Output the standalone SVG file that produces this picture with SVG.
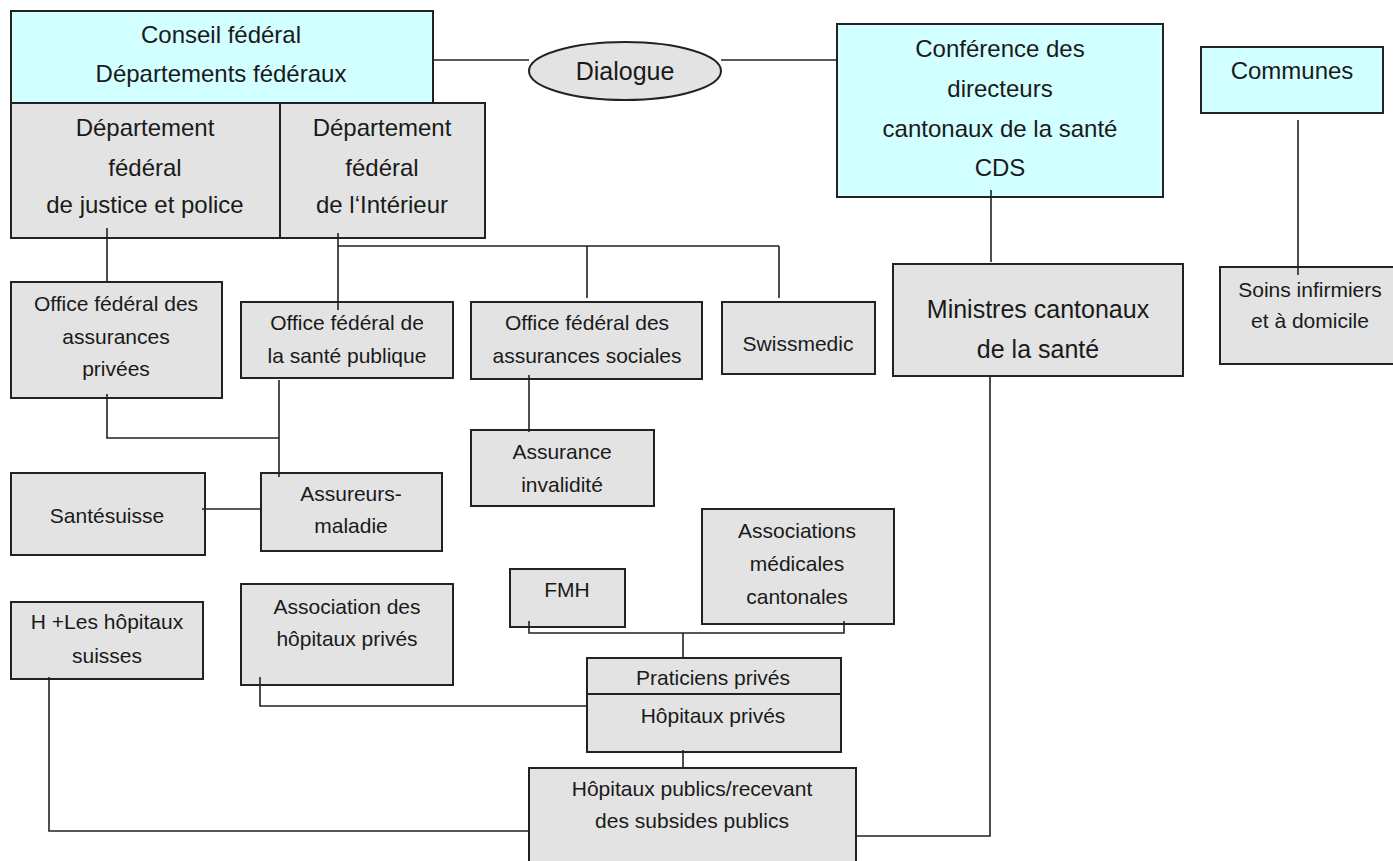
<svg xmlns="http://www.w3.org/2000/svg" width="1393" height="861" viewBox="0 0 1393 861">
<style>
.cy{fill:#d2ffff;stroke:#222;stroke-width:2}
.gr{fill:#e3e3e3;stroke:#222;stroke-width:2}
text{font-family:"Liberation Sans",Arial,sans-serif;fill:#1a1a1a;text-anchor:middle;font-size:21px}
.lg{font-size:24px}
.xl{font-size:25px}
#connectors path{fill:none;stroke:#222;stroke-width:1.6}
</style>
<rect width="1393" height="861" fill="#fff"/>
<g id="conseil"><rect class="cy" x="11" y="11" width="422" height="92"/>
<text class="lg" x="221" y="43">Conseil fédéral</text>
<text class="lg" x="221" y="82">Départements fédéraux</text></g>
<g id="dfjp"><rect class="gr" x="11" y="103" width="269" height="135"/>
<text class="lg" x="145" y="136">Département</text>
<text class="lg" x="145" y="176">fédéral</text>
<text class="lg" x="145" y="213">de justice et police</text></g>
<g id="dfi"><rect class="gr" x="280" y="103" width="205" height="135"/>
<text class="lg" x="382" y="136">Département</text>
<text class="lg" x="382" y="176">fédéral</text>
<text class="lg" x="382" y="213">de l‘Intérieur</text></g>
<g id="dialogue"><ellipse cx="625" cy="71" rx="96" ry="29" fill="#e3e3e3" stroke="#222" stroke-width="2"/>
<text class="xl" x="625" y="80">Dialogue</text></g>
<g id="cds"><rect class="cy" x="837" y="24" width="326" height="173"/>
<text class="lg" x="1000" y="57">Conférence des</text>
<text class="lg" x="1000" y="97">directeurs</text>
<text class="lg" x="1000" y="137">cantonaux de la santé</text>
<text class="lg" x="1000" y="176">CDS</text></g>
<g id="communes"><rect class="cy" x="1201" y="47" width="182" height="66"/>
<text class="lg" x="1292" y="79">Communes</text></g>
<g id="soins"><rect class="gr" x="1220" y="267" width="180" height="97"/>
<text x="1310" y="297">Soins infirmiers</text>
<text x="1310" y="328">et à domicile</text></g>
<g id="ministres"><rect class="gr" x="893" y="264" width="290" height="112"/>
<text class="xl" x="1038" y="318">Ministres cantonaux</text>
<text class="xl" x="1038" y="358">de la santé</text></g>
<g id="ofap"><rect class="gr" x="11" y="282" width="211" height="116"/>
<text x="116" y="311">Office fédéral des</text>
<text x="116" y="344">assurances</text>
<text x="116" y="376">privées</text></g>
<g id="ofsp"><rect class="gr" x="241" y="302" width="212" height="76"/>
<text x="347" y="330">Office fédéral de</text>
<text x="347" y="363">la santé publique</text></g>
<g id="ofas"><rect class="gr" x="471" y="302" width="231" height="77"/>
<text x="587" y="330">Office fédéral des</text>
<text x="587" y="363">assurances sociales</text></g>
<g id="swissmedic"><rect class="gr" x="722" y="302" width="153" height="72"/>
<text x="798" y="351">Swissmedic</text></g>
<g id="ai"><rect class="gr" x="471" y="430" width="183" height="76"/>
<text x="562" y="459">Assurance</text>
<text x="562" y="492">invalidité</text></g>
<g id="santesuisse"><rect class="gr" x="11" y="473" width="194" height="82"/>
<text x="107" y="523">Santésuisse</text></g>
<g id="assureurs"><rect class="gr" x="261" y="473" width="181" height="78"/>
<text x="351" y="501">Assureurs-</text>
<text x="351" y="533">maladie</text></g>
<g id="hplus"><rect class="gr" x="11" y="602" width="192" height="77"/>
<text x="107" y="629">H +Les hôpitaux</text>
<text x="107" y="663">suisses</text></g>
<g id="ahp"><rect class="gr" x="241" y="584" width="212" height="101"/>
<text x="347" y="614">Association des</text>
<text x="347" y="646">hôpitaux privés</text></g>
<g id="fmh"><rect class="gr" x="510" y="569" width="115" height="58"/>
<text x="567" y="597">FMH</text></g>
<g id="amc"><rect class="gr" x="702" y="509" width="192" height="115"/>
<text x="797" y="538">Associations</text>
<text x="797" y="571">médicales</text>
<text x="797" y="604">cantonales</text></g>
<g id="praticiens"><rect class="gr" x="587" y="658" width="254" height="36"/>
<text x="713" y="685">Praticiens privés</text></g>
<g id="hopprives"><rect class="gr" x="587" y="694" width="254" height="58"/>
<text x="713" y="723">Hôpitaux privés</text></g>
<g id="hoppublics"><rect class="gr" x="529" y="768" width="327" height="102"/>
<text x="692" y="796">Hôpitaux publics/recevant</text>
<text x="692" y="828">des subsides publics</text></g>
<g id="connectors">
<path d="M433 60H529"/>
<path d="M721 60H837"/>
<path d="M107 228V282"/>
<path d="M338 233V310M338 246H779M587 246V298M779 246V298"/>
<path d="M107 394V438H279M279 380V477"/>
<path d="M529 375V432"/>
<path d="M202 509H261"/>
<path d="M991 190V262"/>
<path d="M1298 120V275"/>
<path d="M990 376V836H856"/>
<path d="M529 621V633H844V621M683 633V658"/>
<path d="M683 750V768"/>
<path d="M260 677V706H587"/>
<path d="M49 677V831H529"/>
</g>
</svg>
